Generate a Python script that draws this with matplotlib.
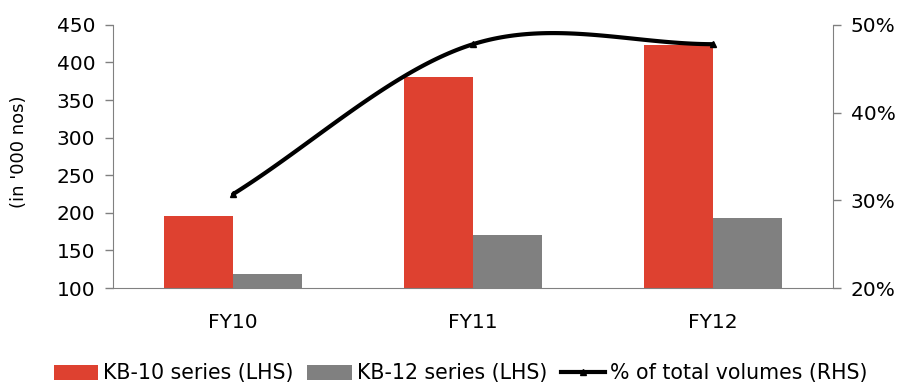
import numpy as np
import matplotlib
matplotlib.use("Agg")
import matplotlib.pyplot as plt
from matplotlib.ticker import FuncFormatter
from matplotlib.lines import Line2D

categories = ["FY10", "FY11", "FY12"]
kb10 = [196, 381, 423]
kb12 = [119, 170, 193]
share_pct = [30.7, 47.8, 47.8]

red = "#DE4130"
grey = "#808080"
axis_col = "#808080"

plt.rcParams["font.family"] = ["DejaVu Sans"]

fig = plt.figure(figsize=(9, 3.83), dpi=100)
ax = fig.add_axes([0.1256, 0.248, 0.80, 0.687])

x = np.arange(len(categories))
w = 0.2875
b1 = ax.bar(x - w / 2, kb10, width=w, color=red, label="KB-10 series (LHS)", bottom=0)
b2 = ax.bar(x + w / 2, kb12, width=w, color=grey, label="KB-12 series (LHS)", bottom=0)

ax.set_xlim(-0.5, 2.5)
ax.set_ylim(100, 450)
ax.set_yticks(np.arange(100, 451, 50))
ax.set_xticks(x)
ax.set_xticklabels(categories)
ax.tick_params(axis="x", length=0, pad=18, labelsize=14.5)
ax.tick_params(axis="y", length=5.8, width=1, color=axis_col, labelsize=14.5, pad=7)
ax.set_ylabel("(in '000 nos)", fontsize=13)
ax.yaxis.set_label_coords(-0.118, 0.517)
for s in ["top", "right"]:
    ax.spines[s].set_visible(False)
for s in ["left", "bottom"]:
    ax.spines[s].set_color(axis_col)

ax2 = ax.twinx()
ax2.set_ylim(20, 50)
ax2.set_yticks([20, 30, 40, 50])
ax2.yaxis.set_major_formatter(FuncFormatter(lambda v, p: f"{v:.0f}%"))
ax2.tick_params(axis="y", length=5.8, width=1, color=axis_col, labelsize=14.5, pad=7)
for s in ["top", "left", "bottom"]:
    ax2.spines[s].set_visible(False)
ax2.spines["right"].set_color(axis_col)


def smooth_curve(xs, ys, n=60):
    """Catmull-Rom style Bezier smoothing through the given points."""
    pts = np.column_stack([xs, ys]).astype(float)
    out = []
    for i in range(len(pts) - 1):
        p0 = pts[i - 1] if i > 0 else pts[i]
        p1 = pts[i]
        p2 = pts[i + 1]
        p3 = pts[i + 2] if i + 2 < len(pts) else pts[i + 1]
        c1 = p1 + (p2 - p0) / 6.0 if i > 0 else p1 + (p2 - p1) / 3.0
        c2 = p2 - (p3 - p1) / 6.0 if i + 2 < len(pts) else p2 - (p2 - p1) / 3.0
        t = np.linspace(0, 1, n)[:, None]
        seg = ((1 - t) ** 3) * p1 + 3 * ((1 - t) ** 2) * t * c1 + 3 * (1 - t) * t ** 2 * c2 + t ** 3 * p2
        out.append(seg if i == 0 else seg[1:])
    c = np.vstack(out)
    return c[:, 0], c[:, 1]


sx, sy = smooth_curve(x, share_pct)
ax2.plot(sx, sy, color="black", lw=3, solid_capstyle="round")
ax2.plot(x, share_pct, linestyle="none", marker="^", ms=5, color="black")

line_handle = Line2D([], [], color="black", lw=3, marker="^", ms=4)
fig.legend([b1, b2, line_handle],
           ["KB-10 series (LHS)", "KB-12 series (LHS)", "% of total volumes (RHS)"],
           loc="center", bbox_to_anchor=(0.512, 0.025), ncol=3, frameon=False,
           fontsize=14.8, handlelength=2.15, handleheight=0.75, handletextpad=0.25,
           columnspacing=0.68, borderpad=0, borderaxespad=0)

fig.savefig("out.png", dpi=100)
